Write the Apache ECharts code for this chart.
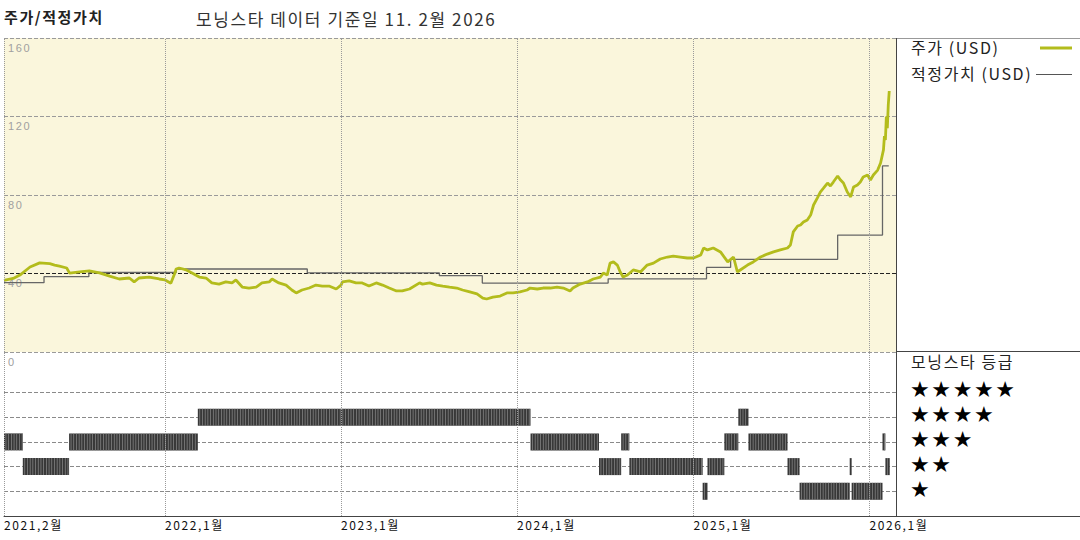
<!DOCTYPE html>
<html><head><meta charset="utf-8">
<script src="https://cdn.jsdelivr.net/npm/echarts@6/dist/echarts.min.js"></script>
<style>html,body{margin:0;padding:0;background:#fff}#c{width:1080px;height:540px}#c svg text{letter-spacing:1.6px}</style>
</head><body><div id="c"></div>
<script>
// ---- data ----
const priceDates = ['2021-02-01','2021-02-20','2021-03-06','2021-03-27','2021-04-16','2021-05-07','2021-05-17','2021-05-27','2021-06-11','2021-06-17','2021-07-08','2021-07-28','2021-08-18','2021-09-08','2021-09-28','2021-10-19','2021-10-29','2021-11-08','2021-11-29','2021-12-20','2022-01-01','2022-01-13','2022-01-21',
'2022-01-24','2022-01-30','2022-02-14','2022-02-26','2022-03-13','2022-03-27','2022-04-08','2022-04-23','2022-05-07','2022-05-20','2022-05-28','2022-06-10','2022-06-24','2022-07-09','2022-07-21','2022-08-05','2022-08-11','2022-08-25','2022-09-09','2022-09-21','2022-09-30','2022-10-12','2022-10-27','2022-11-10','2022-11-23','2022-12-07','2022-12-22','2023-01-01',
'2023-01-04','2023-01-18','2023-02-01','2023-02-14','2023-02-28','2023-03-15','2023-03-28','2023-04-11','2023-04-26','2023-05-08','2023-05-23','2023-06-13','2023-06-19','2023-07-04','2023-07-18','2023-07-31','2023-08-14','2023-08-29','2023-09-10','2023-09-25','2023-10-10','2023-10-22','2023-10-30','2023-11-12','2023-11-27','2023-12-11','2023-12-24',
'2024-01-07','2024-01-22','2024-01-28','2024-02-12','2024-02-24','2024-03-10','2024-03-24','2024-04-06','2024-04-20','2024-04-26','2024-05-11','2024-05-26','2024-06-07','2024-06-22','2024-06-28','2024-07-06','2024-07-12','2024-07-19','2024-07-27','2024-08-02','2024-08-08','2024-08-17','2024-08-29','2024-09-13','2024-09-27','2024-10-10','2024-10-24','2024-11-08','2024-11-20','2024-12-05','2024-12-19',
'2025-01-01','2025-01-16','2025-01-22','2025-01-30','2025-02-11','2025-02-26','2025-03-13','2025-03-25','2025-04-02','2025-04-08','2025-04-23','2025-05-05','2025-05-20','2025-06-03','2025-06-16','2025-06-30','2025-07-15','2025-07-21','2025-07-27','2025-08-05','2025-08-11','2025-08-17','2025-08-25','2025-09-01','2025-09-07','2025-09-15','2025-09-21','2025-09-28','2025-10-06','2025-10-12','2025-10-18','2025-10-27','2025-11-02','2025-11-08','2025-11-16','2025-11-23','2025-11-29','2025-12-07','2025-12-13','2025-12-19','2025-12-28',
'2026-01-03','2026-01-09','2026-01-18','2026-01-24','2026-01-30','2026-02-01','2026-02-03','2026-02-05','2026-02-07','2026-02-09','2026-02-11'];
const priceValues = [36.5,37.5,39.2,43.3,45.4,45.0,44.3,43.8,42.8,40.2,40.8,41.3,40.3,38.7,37.2,37.7,35.7,37.7,38.2,37.2,36.7,35.0,40.0,
42.3,42.8,41.8,40.3,38.2,37.7,35.2,34.6,35.7,35.2,36.7,33.1,32.6,33.1,35.2,35.7,37.2,35.2,34.1,31.6,30.1,31.6,32.6,34.1,33.6,33.6,32.1,34.1,
35.7,36.2,35.2,35.2,33.6,35.2,34.1,32.6,31.1,31.1,32.1,35.2,34.6,35.2,34.1,33.6,33.1,32.6,31.6,30.6,29.6,27.5,27.0,28.0,28.5,30.1,30.1,
30.6,31.6,32.6,32.1,32.6,32.6,33.1,32.6,31.1,32.6,34.6,35.7,37.2,38.2,40.2,39.2,45.3,45.9,44.3,40.8,38.2,39.2,41.8,40.8,44.3,45.3,47.4,48.4,48.9,48.4,47.9,
47.9,49.4,53.0,52.0,53.0,51.0,45.9,48.4,40.8,41.8,44.3,45.9,48.4,49.9,51.0,52.0,53.0,54.5,61.2,64.2,64.7,66.2,67.3,69.8,74.9,78.5,81.5,83.6,86.1,84.6,86.6,89.7,87.6,86.1,81.5,79.0,84.1,85.1,86.6,89.2,90.2,
87.6,90.2,92.7,96.3,103,110,108,120,114,126,133];
const fairDates = ['2021-02-01','2021-04-25','2021-07-27','2022-01-24','2022-10-23','2023-07-24','2023-10-21','2024-07-08','2025-01-28','2025-03-19','2025-10-27','2026-01-28','2026-02-10'];
const fairValues = [35.3,38.4,40.5,42.3,40.3,38.9,35.1,37.3,43.1,47.2,59.6,94.8,94.8];
const ratingStarts = ['2021-02-01','2021-03-12','2021-06-16','2022-03-10','2024-01-29','2024-06-19','2024-08-04','2024-08-21','2025-01-20','2025-01-30','2025-03-06','2025-04-04','2025-04-25','2025-07-15','2025-08-09','2025-11-21','2025-11-25','2026-01-28','2026-02-03'];
const ratingEnds   = ['2021-03-12','2021-06-16','2022-03-10','2024-01-29','2024-06-19','2024-08-04','2024-08-21','2025-01-20','2025-01-30','2025-03-06','2025-04-04','2025-04-25','2025-07-15','2025-08-09','2025-11-21','2025-11-25','2026-01-28','2026-02-03','2026-02-12'];
const ratingLevels = [3,2,3,4,3,2,3,2,1,2,3,4,3,2,1,2,1,3,2];
const xTickDates = ['2021-02-01','2022-01-01','2023-01-01','2024-01-01','2025-01-01','2026-01-01'];
const xTickLabels = ['2021,2월','2022,1월','2023,1월','2024,1월','2025,1월','2026,1월'];
const yTicks = [0,40,80,120,160];
const starLabels = ['★★★★★','★★★★','★★★','★★','★'];
const titleText = '주가/적정가치';
const subtitleText = '모닝스타 데이터 기준일 11. 2월 2026';
const legendPrice = '주가 (USD)';
const legendFair = '적정가치 (USD)';
const ratingTitle = '모닝스타 등급';

// ---- helpers ----
function t(s){const p=s.split('-');return new Date(+p[0],+p[1]-1,+p[2]).getTime();}
const xMin = t('2021-02-01'), xMax = t('2026-02-25');
const FONT = '"Noto Sans CJK KR", "Noto Sans", sans-serif';
const STAR_FONT = '"DejaVu Sans", sans-serif';
const PRICE_COLOR = '#B3BC1C';

const priceData = priceDates.map((d,i)=>[t(d), priceValues[i]]);
const fairData = fairDates.map((d,i)=>[t(d), fairValues[i]]);
const ratingData = ratingStarts.map((d,i)=>[t(d), t(ratingEnds[i]), ratingLevels[i]]);
const xTicks = xTickDates.map(t);
const vLines = xTicks.map(v=>({xAxis:v}));
const vLinesLabelled = xTicks.map((v,i)=>({xAxis:v, label:{formatter:xTickLabels[i]}}));

const chart = echarts.init(document.getElementById('c'), null, {renderer:'svg'});
const gridLine = {type:'dotted', color:'#9a9a9a', width:1};

const starRowCenters = [391, 416, 441, 466, 491];
const starGraphics = starLabels.map((s,i)=>({type:'text', left:910, top:starRowCenters[i]-12.5,
  style:{text:s, font:'22px '+STAR_FONT, fill:'#000'}}));

chart.setOption({
  animation:false,
  textStyle:{fontFamily:FONT},
  grid:[
    {left:4, right:184, top:38, height:314, show:true, backgroundColor:'#FAF6DC', borderWidth:0},
    {left:4, right:184, top:352, height:164, show:false}
  ],
  xAxis:[
    {type:'time', gridIndex:0, min:xMin, max:xMax, axisLabel:{show:false}, axisTick:{show:false}, axisLine:{show:false}, splitLine:{show:false}},
    {type:'time', gridIndex:1, min:xMin, max:xMax, axisTick:{show:false},
     axisLine:{show:true, lineStyle:{color:'#444', width:1}},
     splitLine:{show:false}, axisLabel:{show:false}}
  ],
  yAxis:[
    {type:'value', gridIndex:0, min:yTicks[0], max:yTicks[yTicks.length-1], interval:40,
     axisLine:{show:false}, axisTick:{show:false},
     axisLabel:{inside:true, verticalAlign:'top', color:'#a0a0a0', fontSize:11, margin:4, padding:[4,0,0,0], fontFamily:'"Liberation Sans", sans-serif'},
     splitLine:{show:true, lineStyle:{type:'dashed', color:['#9a9a9a','#222','#9a9a9a','#9a9a9a','#9a9a9a'], width:1}}},
    {type:'value', gridIndex:1, min:0, max:6.64, interval:1,
     axisLine:{show:false}, axisTick:{show:false}, axisLabel:{show:false},
     splitLine:{show:true, lineStyle:{type:'dashed', color:['rgba(0,0,0,0)','#8a8a8a','#8a8a8a','#8a8a8a','#8a8a8a','#8a8a8a','rgba(0,0,0,0)'], width:1}}}
  ],
  series:[
    {type:'line', name:'적정가치', xAxisIndex:0, yAxisIndex:0, data:fairData, step:'end', showSymbol:false, symbol:'none',
     lineStyle:{color:'#666', width:1.3}, z:3,
     markLine:{silent:true, symbol:'none', label:{show:false}, lineStyle:gridLine, data:vLines, animation:false}},
    {type:'line', name:'주가', xAxisIndex:0, yAxisIndex:0, data:priceData, showSymbol:false, symbol:'none',
     lineStyle:{color:PRICE_COLOR, width:2.8}, z:4},
    {type:'custom', name:'등급', xAxisIndex:1, yAxisIndex:1, data:ratingData, encode:{x:[0,1], y:2},
     markLine:{silent:true, symbol:'none',
       label:{show:true, position:'start', align:'left', verticalAlign:'top', distance:2, color:'#111', fontSize:12, fontFamily:FONT},
       lineStyle:gridLine, data:vLinesLabelled, animation:false},
     renderItem:function(params, api){
       const s = api.coord([api.value(0), api.value(2)]);
       const e = api.coord([api.value(1), api.value(2)]);
       const h = 17;
       const w = Math.max(e[0]-s[0], 1.6);
       const top = s[1]-h/2;
       const ch = [{type:'rect', shape:{x:s[0], y:top, width:w, height:h}, style:{fill:'#383838'}}];
       for (let x = s[0]+1.6; x < s[0]+w-1; x += 2.7) {
         ch.push({type:'rect', shape:{x:x, y:top, width:0.7, height:h}, style:{fill:'#8c8c8c'}});
       }
       return {type:'group', children:ch};
     }}
  ],
  graphic:[
    {type:'text', left:4, top:9, style:{text:titleText, fill:'#222', font:'bold 15px '+FONT}},
    {type:'text', left:196, top:10, style:{text:subtitleText, fill:'#333', font:'17px '+FONT}},
    {type:'line', shape:{x1:896, y1:38.5, x2:1080, y2:38.5}, style:{stroke:'#999', lineWidth:1}},
    {type:'line', shape:{x1:896.5, y1:38, x2:896.5, y2:516}, style:{stroke:'#444', lineWidth:1}},
    {type:'line', shape:{x1:896, y1:351.5, x2:1080, y2:351.5}, style:{stroke:'#444', lineWidth:1}},
    {type:'line', shape:{x1:896, y1:516.5, x2:1080, y2:516.5}, style:{stroke:'#444', lineWidth:1}},
    {type:'text', left:911, top:39, style:{text:legendPrice, font:'16px '+FONT, fill:'#222'}},
    {type:'line', shape:{x1:1040, y1:48, x2:1072, y2:48}, style:{stroke:PRICE_COLOR, lineWidth:3}},
    {type:'text', left:911, top:65, style:{text:legendFair, font:'16px '+FONT, fill:'#222'}},
    {type:'line', shape:{x1:1036, y1:74.5, x2:1072, y2:74.5}, style:{stroke:'#555', lineWidth:1.2}},
    {type:'text', left:911, top:353, style:{text:ratingTitle, font:'16px '+FONT, fill:'#222'}}
  ].concat(starGraphics)
});
</script></body></html>
